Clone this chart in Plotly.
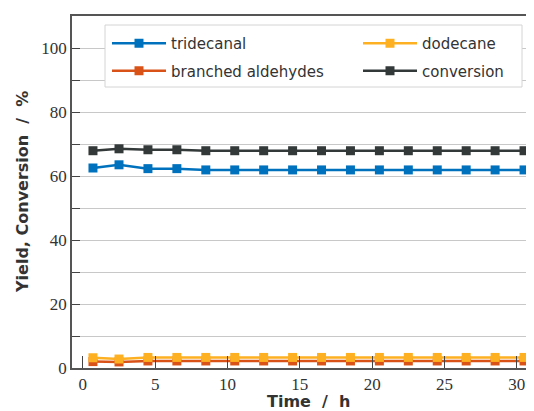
import plotly.graph_objects as go

time_h = [0.7, 2.5, 4.5, 6.5, 8.5, 10.5, 12.5, 14.5, 16.5, 18.5, 20.5, 22.5, 24.5, 26.5, 28.5, 30.5]
tridecanal = [62.5, 63.5, 62.3, 62.3, 61.9, 61.9, 61.9, 61.9, 61.9, 61.9, 61.9, 61.9, 61.9, 61.9, 61.9, 61.9]
dodecane = [3.2, 2.8, 3.3, 3.3, 3.3, 3.3, 3.3, 3.3, 3.3, 3.3, 3.3, 3.3, 3.3, 3.3, 3.3, 3.3]
branched = [2.0, 1.9, 2.2, 2.2, 2.2, 2.2, 2.2, 2.2, 2.2, 2.2, 2.2, 2.2, 2.2, 2.2, 2.2, 2.2]
conversion = [67.9, 68.5, 68.2, 68.2, 67.9, 67.9, 67.9, 67.9, 67.9, 67.9, 67.9, 67.9, 67.9, 67.9, 67.9, 67.9]

series_names = ["tridecanal", "branched aldehydes", "dodecane", "conversion"]
series_values = [tridecanal, branched, dodecane, conversion]
series_colors = ["#0072BD", "#D95319", "#FDB022", "#333838"]
series_legends = ["legend", "legend", "legend2", "legend2"]

y_tickvals = [0, 10, 20, 30, 40, 50, 60, 70, 80, 90, 100, 110]
y_ticktext = ["0", "", "20", "", "40", "", "60", "", "80", "", "100", ""]
x_tickvals = [0, 5, 10, 15, 20, 25, 30]

fig = go.Figure()
for i, (name, vals, col, lg) in enumerate(zip(series_names, series_values, series_colors, series_legends)):
    fig.add_trace(go.Scatter(
        x=time_h, y=vals, name=name, mode="lines+markers",
        line=dict(color=col, width=2.5),
        marker=dict(symbol="square", size=9, color=col),
        legend=lg, legendgroup="g%d" % i,
    ))

# page body has an 8px margin: work in page pixels minus 8
OFF = 8
W, H = 534 - OFF, 411 - OFF
PL, PR, PT, PB = 72 - OFF, 532 - OFF, 16 - OFF, 368 - OFF
PW, PH = PR - PL, PB - PT

legend_font = dict(family="DejaVu Sans", size=15, color="#333333")
common_legend = dict(
    orientation="v", yanchor="top", xanchor="left",
    xref="paper", yref="paper",
    font=legend_font, bgcolor="rgba(0,0,0,0)", borderwidth=0,
    itemwidth=54, tracegroupgap=5,
)

fig.update_layout(
    width=W, height=H,
    margin=dict(l=PL, r=W - PR, t=PT, b=H - PB, autoexpand=False),
    paper_bgcolor="white", plot_bgcolor="white",
    showlegend=True,
    legend=dict(common_legend, x=(107 - OFF - PL) / PW, y=(PB - (27 - OFF)) / PH),
    legend2=dict(common_legend, x=(358 - OFF - PL) / PW, y=(PB - (27 - OFF)) / PH),
    shapes=[dict(
        type="rect", xref="paper", yref="paper",
        x0=(105 - OFF - PL) / PW, x1=(522 - OFF - PL) / PW,
        y0=(PB - (87 - OFF)) / PH, y1=(PB - (25 - OFF)) / PH,
        line=dict(color="#d4d4d4", width=1), fillcolor="white", layer="above",
    )],
    annotations=[
        dict(text="<b>Yield, Conversion  /  %</b>", xref="paper", yref="paper",
             x=(22 - OFF - PL) / PW, y=(PB - (192 - OFF)) / PH, textangle=-90, showarrow=False,
             xanchor="center", yanchor="middle",
             font=dict(family="DejaVu Sans", size=16, color="#333333")),
        dict(text="<b>Time  /  h</b>", xref="paper", yref="paper",
             x=(308 - OFF - PL) / PW, y=(PB - (401 - OFF)) / PH, showarrow=False,
             xanchor="center", yanchor="middle",
             font=dict(family="DejaVu Sans", size=16, color="#333333")),
    ],
    xaxis=dict(
        range=[-0.75, 31.05], tickvals=x_tickvals, automargin=False,
        ticks="inside", ticklen=12, tickwidth=1, tickcolor="#444444",
        showline=True, linecolor="#555555", linewidth=1.5, mirror=True,
        showgrid=False, zeroline=False,
        tickfont=dict(family="Liberation Serif", size=17, color="#333333"),
    ),
    yaxis=dict(
        range=[0, 110], tickvals=y_tickvals, ticktext=y_ticktext, automargin=False,
        ticks="inside", ticklen=8, tickwidth=1, tickcolor="#444444",
        showline=True, linecolor="#555555", linewidth=1.5,
        showgrid=True, gridcolor="#c8c8c8", gridwidth=1, zeroline=False,
        tickfont=dict(family="Liberation Serif", size=17, color="#333333"),
    ),
)

fig.write_html("out.html")
